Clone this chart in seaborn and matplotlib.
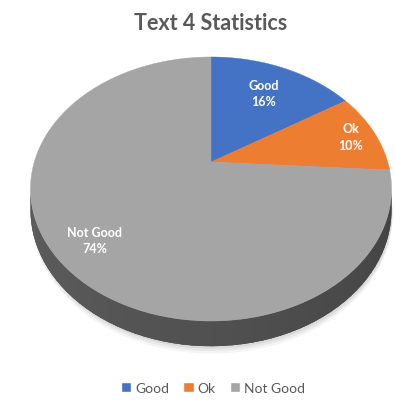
"""
plot.py

3D-looking pie chart (Excel style) of text 4 statistics
"""

import numpy as np
import seaborn as sns
from matplotlib import pyplot as plt
from matplotlib.patches import Polygon, Rectangle

sns.set_theme(style='white')
plt.rcParams['font.family'] = ['Lato', 'DejaVu Sans']

#------------------------------------------------------------------------------
# Data
#------------------------------------------------------------------------------
title = 'Text 4 Statistics'
labels = ['Good', 'Ok', 'Not Good']
shares = [16, 10, 74]
colors = ['#4472C4', '#ED7D31', '#A5A5A5']

#------------------------------------------------------------------------------
# Perspective of the tilted disc (pixel units)
#------------------------------------------------------------------------------
cx, cy = 211, 163          # pie centre on screen
rx, ry = 176.7, 126.5      # radii
k = 0.2045                 # perspective strength
thick = 20                 # height of the side wall
label_r = [0.7, 0.85, 0.8]


def project(x, y, drop=0.0):
    d = 1 + k * y
    return cx + rx * x / d, cy - ry * y / d + drop / d


def ring(t, drop=0.0):
    t = np.radians(t)
    u, v = project(np.cos(t), np.sin(t), drop)
    return np.column_stack([u, v])


#------------------------------------------------------------------------------
# Plot figure
#------------------------------------------------------------------------------
fig = plt.figure(figsize=(3.95, 4.02), dpi=100)
fig.patch.set_facecolor('white')
ax = fig.add_axes([10 / 395, 0, 1 - 10 / 395, 1 - 8 / 402])

wedges, _ = ax.pie(shares, colors=colors, startangle=90, counterclock=False)
angles = [(w.theta1, w.theta2) for w in wedges]
for w in wedges:
    w.remove()

ax.set_aspect('auto')
ax.set_xlim(10, 395)
ax.set_ylim(402, 8)
ax.set_facecolor('#f6f6f6')
ax.set_xticks([])
ax.set_yticks([])
for s in ax.spines.values():
    s.set_visible(False)

# soft shadow
full = np.linspace(0, 360, 361)
for i, a in enumerate([0.04, 0.05, 0.06]):
    pts = ring(full, thick + 6 - 2 * i)
    pts[:, 0] += 1
    ax.add_patch(Polygon(pts, closed=True, facecolor='black', alpha=a,
                         edgecolor='none', zorder=1))

# side wall: base shape, then overlapping strips for the shading
t_left = 180 + np.degrees(np.arcsin(k))
t_right = 360 - np.degrees(np.arcsin(k))
ts = np.linspace(t_left, t_right, 300)
side = np.vstack([ring(ts), ring(ts[::-1], thick)])
ax.add_patch(Polygon(side, closed=True, facecolor='#4a4a4a',
                     edgecolor='none', zorder=2))
edges = np.linspace(t_left, t_right, 61)
for i in range(len(edges) - 1):
    seg = np.linspace(edges[i], min(edges[i + 1] + 0.8, t_right), 8)
    frac = (edges[i] + edges[i + 1] - 2 * t_left) / 2 / (t_right - t_left)
    g = 0.37 - 0.11 * frac
    pts = np.vstack([ring(seg), ring(seg[::-1], thick)])
    ax.add_patch(Polygon(pts, closed=True, facecolor=(g, g, g),
                         edgecolor='none', zorder=2))

# top surface
for (t1, t2), c in zip(angles, colors):
    arc = ring(np.linspace(t1, t2, 200))
    pts = np.vstack([[project(0, 0)], arc])
    ax.add_patch(Polygon(pts, closed=True, facecolor=c, edgecolor=c,
                         linewidth=0.3, zorder=3))

# data labels
for (t1, t2), lab, val, r in zip(angles, labels, shares, label_r):
    m = np.radians((t1 + t2) / 2)
    x, y = project(r * np.cos(m), r * np.sin(m))
    ax.text(x, y, f'{lab}\n{val}%', ha='center', va='center', color='white',
            fontsize=9, fontweight='bold', linespacing=1.45, zorder=4)

fig.text(210.5 / 395, 1 - 24 / 402, title, ha='center', va='center',
         fontsize=15.5, fontweight='bold', color='#595959')

handles = [Rectangle((0, 0), 1, 1, facecolor=c) for c in colors]
fig.legend(handles, labels, loc='center', bbox_to_anchor=(213 / 395, 13 / 402),
           ncol=3, frameon=False, fontsize=10, labelcolor='#595959',
           handlelength=0.75, handleheight=0.75, handletextpad=0.3,
           columnspacing=1.0)

#------------------------------------------------------------------------------
# Save figure
#------------------------------------------------------------------------------
plt.savefig('out.png', dpi=100)
